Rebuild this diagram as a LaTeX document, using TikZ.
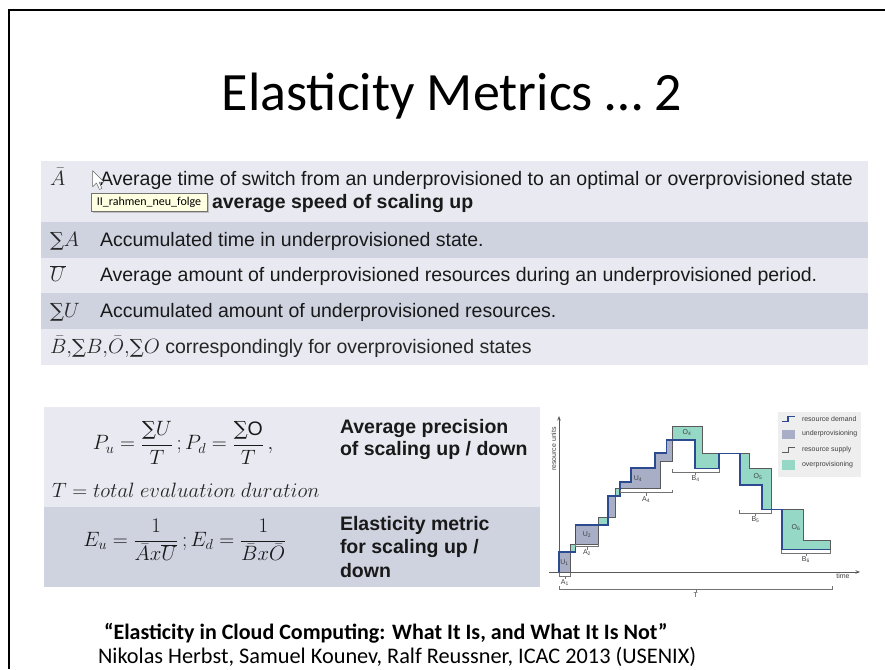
\documentclass[tikz,border=0pt]{standalone}
\usepackage{fontspec}
\setmainfont{Liberation Sans}
\newfontfamily\calibri{Carlito}
\newfontfamily\sumfont{DejaVu Serif}
\usetikzlibrary{arrows.meta}

\definecolor{rowlight}{HTML}{E9EAF1}
\definecolor{rowdark}{HTML}{CFD3E0}
\definecolor{demandblue}{HTML}{2C4A90}
\definecolor{underfill}{HTML}{A9AEC7}
\definecolor{overfill}{HTML}{95D8C6}
\definecolor{supplygray}{HTML}{5A5A5A}
\definecolor{tipfill}{HTML}{FFFFE1}
\definecolor{legendbg}{HTML}{EEEEEE}

% summation sign sized to the surrounding large text
\newcommand\msum{\mathord{\hbox{\sumfont ∑}}}

% bracket under an interval of the chart: x1, x2, y, node name, label
\newcommand\chartbrace[5]{%
  \draw[brace] (#1,#3-3) -- (#1,#3) -- (#2,#3) -- (#2,#3-3);
  \draw[brace] ({(#1+#2)/2},#3) -- ({(#1+#2)/2},#3+3);
  \node[tiny, anchor=north] (#4) at ({(#1+#2)/2},#3+3.5) {#5};}

\begin{document}
\begin{tikzpicture}[x=1pt,y=-1pt,
  every node/.style={inner sep=0pt, outer sep=0pt},
  body/.style={font=\fontsize{19.5}{23}\selectfont, anchor=base west, text=black!90},
  bodybold/.style={font=\bfseries\fontsize{19.5}{23}\selectfont, anchor=base west, text=black!90},
  sym/.style={font=\fontsize{19.5}{23}\selectfont, anchor=base west, text=black!85},
  mathbig/.style={font=\fontsize{19.5}{23}\selectfont, text=black!90},
  tiny/.style={font=\fontsize{7}{8}\selectfont, text=black!75},
  brace/.style={draw=black!55, line width=0.5pt},
  axis/.style={draw=black!65, line width=0.8pt},
  demandline/.style={draw=demandblue, line width=1.4pt, line join=miter},
  supplyline/.style={draw=supplygray, line width=0.5pt},
  ]
\useasboundingbox (0,0) rectangle (885,669);
\fill[white] (0,0) rectangle (885,669);

% slide frame
\draw[line width=2.2pt] (9,669) -- (9,10) -- (885,10);

% title
\node[font=\calibri\fontsize{54}{62}\selectfont, anchor=base] (title) at (452,110) {Elasticity Metrics … 2};

% definition table
\fill[rowlight] (41,161) rectangle (868,222);
\fill[rowdark]  (41,222) rectangle (868,258);
\fill[rowlight] (41,258) rectangle (868,293);
\fill[rowdark]  (41,293) rectangle (868,329);
\fill[rowlight] (41,329) rectangle (868,365);

\node[sym] (symA) at (50,185) {$\bar{A}$};
\node[body] (defA) at (100,185) {Average time of switch from an underprovisioned to an optimal or overprovisioned state};
\node[bodybold] (defA2) at (212,208) {average speed of scaling up};
\node[sym] (symSA) at (50,246.5) {$\msum A$};
\node[body] (defSA) at (100,246.5) {Accumulated time in underprovisioned state.};
\node[sym] (symU) at (50,281.5) {$\overline{U}$};
\node[body] (defU) at (100,281.5) {Average amount of underprovisioned resources during an underprovisioned period.};
\node[sym] (symSU) at (50,317.5) {$\msum U$};
\node[body] (defSU) at (100,317.5) {Accumulated amount of underprovisioned resources.};
\node[sym] (symB) at (50,353) {$\bar{B}{,}\msum B{,}\bar{O}{,}\msum O$ correspondingly for overprovisioned states};

% tooltip and mouse pointer
\fill[black!25] (93,195) rectangle (209,213);
\draw[fill=tipfill, draw=black!55, line width=0.6pt] (91,193) rectangle (207,211);
\node[font=\calibri\fontsize{12}{14}\selectfont] (tip) at (149,202.3) {II\_rahmen\_neu\_folge};
\draw[fill=white, draw=black!60, line width=0.5pt, line join=round]
  (92.7,170.7) -- (92.7,186.7) -- (96.5,183) -- (99.5,189.5) -- (102,188.4) -- (99,182) -- (104,182) -- cycle;

% metric formulas box
\fill[rowlight] (44,407) rectangle (540,507);
\fill[rowdark]  (44,507) rectangle (540,587);
\node[mathbig] (pform) at (183,443) {$\displaystyle P_u=\frac{\msum U}{T}\,;P_d=\frac{\msum \mathrm{O}}{T}\,,$};
\node[sym, font=\fontsize{19.3}{23}\selectfont] (tdef) at (52,497) {$T = total\ evaluation\ duration$};
\node[mathbig] (eform) at (185,540) {$\displaystyle E_u=\frac{1}{\bar{A}x\overline{U}}\,;E_d=\frac{1}{\bar{B}x\bar{O}}$};
\node[bodybold] (prec1) at (340,433) {Average precision};
\node[bodybold] (prec2) at (340,455) {of scaling up / down};
\node[bodybold] (elas1) at (340,530) {Elasticity metric};
\node[bodybold] (elas2) at (340,553.5) {for scaling up /};
\node[bodybold] (elas3) at (340,577) {down};

% chart: under- and overprovisioned areas
\foreach \xa/\ya/\xb/\yb in {559/552/570.7/572, 575.7/525/598.3/544, 608/496/615/517,
    620/482/631/488, 631/468/655/488, 655/453/660/488, 660/453/666.7/461, 666.7/440/672/461}
  \fill[underfill] (\xa,\ya) rectangle (\xb,\yb);
\foreach \xa/\ya/\xb/\yb in {570.7/544/575.7/552, 598.3/517/608/525, 615/488/620/496,
    672/426/695/440, 695/426/702.5/468.3, 702.5/453.3/719/468.3, 740/453.3/749.3/485,
    749.3/468.3/762/485, 762/468.3/771.7/509.5, 782/509.5/803/549.5, 803/540.5/830/549.5}
  \fill[overfill] (\xa,\ya) rectangle (\xb,\yb);

% chart: axes
\draw[axis, -{Stealth[length=4.5pt,width=3.5pt]}] (559,576) -- (559,416);
\draw[axis, -{Stealth[length=4.5pt,width=3.5pt]}] (549,572) -- (860,572);
\node[tiny, rotate=90] (yl) at (553.5,449) {resource units};
\node[tiny] (xl) at (843,576) {time};

% chart: supply and demand curves
\draw[supplyline] (559,572) -- (570.7,572) -- (570.7,544) -- (598.3,544) -- (598.3,517) -- (615,517)
  -- (615,488) -- (660,488) -- (660,461) -- (672,461) -- (672,426) -- (702.5,426) -- (702.5,453.3)
  -- (749.3,453.3) -- (749.3,468.3) -- (771.7,468.3) -- (771.7,509.5) -- (803,509.5) -- (803,540.5)
  -- (830,540.5) -- (830,549.5);
\draw[demandline] (559,572) -- (559,552) -- (575.7,552) -- (575.7,525) -- (608,525) -- (608,496)
  -- (620,496) -- (620,482) -- (631,482) -- (631,468) -- (655,468) -- (655,453) -- (666.7,453)
  -- (666.7,440) -- (695,440) -- (695,468.3) -- (719,468.3) -- (719,453.3) -- (740,453.3) -- (740,485)
  -- (762,485) -- (762,509.5) -- (782,509.5) -- (782,549.5) -- (830,549.5);

% chart: area labels
\node[tiny] (u1) at (564.5,563) {U\textsubscript{1}};
\node[tiny] (u2) at (587,535) {U\textsubscript{2}};
\node[tiny] (u4) at (638,478.5) {U\textsubscript{4}};
\node[tiny] (o4) at (687,433) {O\textsubscript{4}};
\node[tiny] (o5) at (758,477) {O\textsubscript{5}};
\node[tiny] (o6) at (796,528) {O\textsubscript{6}};

% chart: interval brackets
\chartbrace{559}{570.7}{576}{a1}{A\textsubscript{1}}
\chartbrace{575.7}{598.3}{546.5}{a2}{A\textsubscript{2}}
\chartbrace{620}{672.3}{492.7}{a4}{A\textsubscript{4}}
\chartbrace{672.3}{719}{472}{b4}{B\textsubscript{4}}
\chartbrace{739.3}{771.7}{513.3}{b5}{B\textsubscript{5}}
\chartbrace{781.7}{830}{553.3}{b6}{B\textsubscript{6}}
\chartbrace{559}{832.7}{589}{tt}{T}

% chart: legend
\fill[legendbg] (778,412) rectangle (861,477);
\draw[demandblue, line width=1.2pt] (782,421.5) -- (788,421.5) -- (788,416.5) -- (795,416.5);
\fill[underfill] (782,429.5) rectangle (795,438.5);
\draw[supplygray, line width=0.6pt] (782,452.5) -- (788,452.5) -- (788,447.5) -- (795,447.5);
\fill[overfill] (782,460) rectangle (795,470);
\node[tiny, anchor=west] (lg1) at (802,418.5) {resource demand};
\node[tiny, anchor=west] (lg2) at (802,433.5) {underprovisioning};
\node[tiny, anchor=west] (lg3) at (802,450) {resource supply};
\node[tiny, anchor=west] (lg4) at (802,465) {overprovisioning};

% reference
\node[font=\calibri\bfseries\fontsize{22}{26}\selectfont, anchor=base west] (ref1) at (104,639) {“Elasticity in Cloud Computing: What It Is, and What It Is Not”};
\node[font=\calibri\fontsize{22.3}{26}\selectfont, anchor=base west] (ref2) at (98,663) {Nikolas Herbst, Samuel Kounev, Ralf Reussner, ICAC 2013 (USENIX)};
\end{tikzpicture}
\end{document}
